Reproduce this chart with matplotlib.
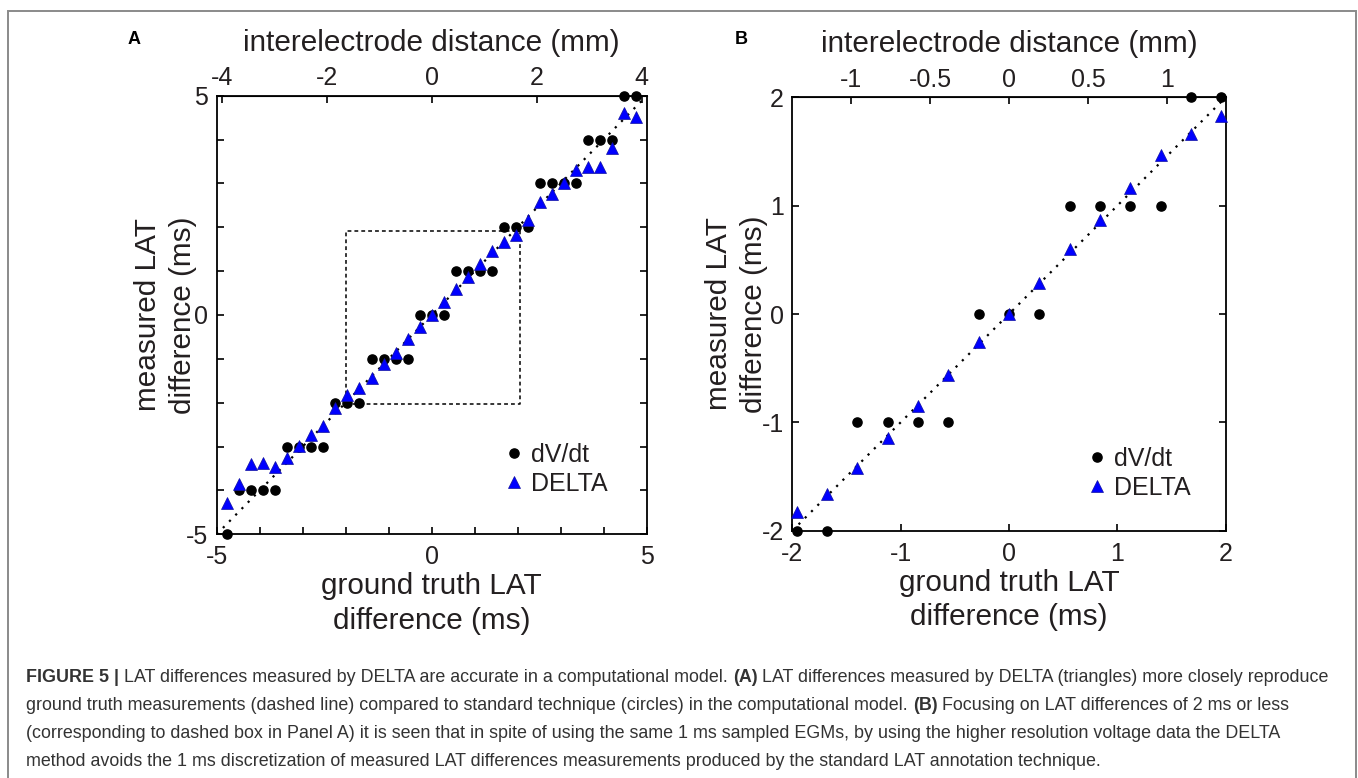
import numpy as np
import matplotlib
matplotlib.use('Agg')
import matplotlib.pyplot as plt
from matplotlib.patches import Rectangle

plt.rcParams['font.family'] = ['Liberation Sans', 'DejaVu Sans']

TXT = '#231f20'

# ground truth LAT difference (ms), panel A
gt_a = [-4.76, -4.48, -4.20, -3.92, -3.64, -3.36, -3.08, -2.80, -2.52, -2.24,
        -1.96, -1.68, -1.40, -1.12, -0.84, -0.56, -0.28, 0.00, 0.28, 0.56,
        0.84, 1.12, 1.40, 1.68, 1.96, 2.24, 2.52, 2.80, 3.08, 3.36,
        3.64, 3.92, 4.20, 4.48, 4.76]
dvdt_a = [-5, -4, -4, -4, -4, -3, -3, -3, -3, -2,
          -2, -2, -1, -1, -1, -1, 0, 0, 0, 1,
          1, 1, 1, 2, 2, 2, 3, 3, 3, 3,
          4, 4, 4, 5, 5]
delta_a = [-4.28, -3.85, -3.40, -3.38, -3.46, -3.27, -2.99, -2.74, -2.52, -2.11,
           -1.83, -1.67, -1.43, -1.12, -0.86, -0.55, -0.27, 0.00, 0.29, 0.59,
           0.87, 1.16, 1.47, 1.66, 1.83, 2.17, 2.57, 2.77, 3.02, 3.31,
           3.37, 3.38, 3.81, 4.61, 4.51]

# panel B (zoom on |difference| <= 2 ms)
gt_b = [-1.96, -1.68, -1.40, -1.12, -0.84, -0.56, -0.28, 0.00,
        0.28, 0.56, 0.84, 1.12, 1.40, 1.68, 1.96]
dvdt_b = [-2, -2, -1, -1, -1, -1, 0, 0, 0, 1, 1, 1, 1, 2, 2]
delta_b = [-1.83, -1.66, -1.42, -1.14, -0.85, -0.56, -0.26, 0.00,
           0.29, 0.60, 0.87, 1.16, 1.47, 1.66, 1.83]

# ms per mm used for the top axis of each panel
scale_a = 1.221
scale_b = 1.458

# dashed box in panel A
box_x = [-2.0, 2.05]
box_y = [-2.03, 1.91]

caption = [
    [("FIGURE 5 |", True), (" LAT differences measured by DELTA are accurate in a computational model. ", False),
     ("(A)", True), (" LAT differences measured by DELTA (triangles) more closely reproduce", False)],
    [("ground truth measurements (dashed line) compared to standard technique (circles) in the computational model. ", False),
     ("(B)", True), (" Focusing on LAT differences of 2 ms or less", False)],
    [("(corresponding to dashed box in Panel A) it is seen that in spite of using the same 1 ms sampled EGMs, by using the higher resolution voltage data the DELTA", False)],
    [("method avoids the 1 ms discretization of measured LAT differences measurements produced by the standard LAT annotation technique.", False)],
]

fig = plt.figure(figsize=(13.58, 7.78), dpi=100)
W, H = 1358, 778

TICK_FS = 18
LABEL_FS = 21.4


def px_axes(l, t, r, b):
    return fig.add_axes([l / W, 1 - b / H, (r - l) / W, (b - t) / H])


def style_panel(ax, lim, major, minor, scale, top_ticks, top_labels, ylab_x):
    ax.set_xlim(-lim, lim)
    ax.set_ylim(-lim, lim)
    ax.plot([-lim, lim], [-lim, lim], ls=(0, (1, 3)), color='black', lw=1.6, zorder=1)
    ax.set_xticks(major)
    ax.set_yticks(major)
    ax.set_xticks(minor, minor=True)
    ax.set_yticks(minor, minor=True)
    ax.tick_params(which='both', direction='in', length=5, width=1.2, top=False, right=True,
                   labelsize=TICK_FS, labelcolor=TXT)
    ax.tick_params(axis='x', pad=8)
    ax.tick_params(axis='y', pad=6)
    for sp in ax.spines.values():
        sp.set_linewidth(1.3)
    sec = ax.secondary_xaxis('top', functions=(lambda x: x / scale, lambda x: x * scale))
    sec.set_xticks(top_ticks)
    sec.set_xticklabels(top_labels)
    sec.tick_params(direction='in', length=5, width=1.2, labelsize=TICK_FS, labelcolor=TXT, pad=4)
    sec.set_xlabel('interelectrode distance (mm)', fontsize=LABEL_FS, color=TXT, labelpad=11)
    ax.set_xlabel('ground truth LAT\ndifference (ms)', fontsize=LABEL_FS, color=TXT, labelpad=2,
                  linespacing=1.3)
    ax.set_ylabel('measured LAT\ndifference (ms)', fontsize=LABEL_FS, color=TXT, linespacing=1.3)
    ax.yaxis.set_label_coords(ylab_x, 0.5)


def draw_points(ax, gt, dvdt, delta, anchor):
    ax.plot(gt, dvdt, 'o', color='black', ms=6.6, label='dV/dt', zorder=3, clip_on=False)
    ax.plot(gt, delta, '^', color='#0000ff', mec='#1010a0', mew=0.5, ms=8, label='DELTA',
            zorder=4, clip_on=False)
    ax.legend(loc='center left', bbox_to_anchor=anchor, frameon=False, fontsize=TICK_FS,
              handlelength=0.8, handletextpad=0.25, labelspacing=0.2, borderpad=0,
              borderaxespad=0, labelcolor=TXT)


# panel A
axA = px_axes(216.7, 95.7, 646.7, 534.3)
style_panel(axA, 5, [-5, 0, 5], list(range(-5, 6)), scale_a, [-4, -2, 0, 2, 4],
            ['-4', '-2', '0', '2', '4'], -0.046)
axA.plot([box_x[0], box_x[1], box_x[1], box_x[0], box_x[0]],
         [box_y[0], box_y[0], box_y[1], box_y[1], box_y[0]],
         ls=(0, (2.5, 2)), color='black', lw=1.1, zorder=1)
draw_points(axA, gt_a, dvdt_a, delta_a, (0.669, 0.148))
axA.set_yticklabels(['-5', '0', '5'])
axA.set_xticklabels(['-5', '0', '5'])

# panel B
axB = px_axes(792.3, 97.3, 1225.7, 530.7)
style_panel(axB, 2, [-2, -1, 0, 1, 2], [-2, -1, 0, 1, 2], scale_b, [-1, -0.5, 0, 0.5, 1],
            ['-1', '-0.5', '0', '0.5', '1'], -0.057)
draw_points(axB, gt_b, dvdt_b, delta_b, (0.681, 0.133))
axB.set_xticklabels(['-2', '-1', '0', '1', '2'])
axB.set_yticklabels(['-2', '-1', '0', '1', '2'])

fig.text(134 / W, 1 - 40 / H, 'A', fontsize=13, fontweight='bold', color='black', ha='center', va='center')
fig.text(741 / W, 1 - 40 / H, 'B', fontsize=13, fontweight='bold', color='black', ha='center', va='center')

# outer frame
fig.patches.append(Rectangle((8 / W, -0.05), (1356 - 8) / W, 1.05 - 11 / H, transform=fig.transFigure,
                             fill=False, edgecolor='#8a8a8a', lw=1.4))

# caption with bold pieces
renderer = fig.canvas.get_renderer()
baselines = [682, 710, 738, 766]
for line, yb in zip(caption, baselines):
    x = 26 / W
    for s, bold in line:
        t = fig.text(x, 1 - yb / H, s, fontsize=12.85, fontweight='bold' if bold else 'normal',
                     color='#333333', ha='left', va='baseline')
        x += t.get_window_extent(renderer).width / W

fig.savefig('out.png', dpi=100)
